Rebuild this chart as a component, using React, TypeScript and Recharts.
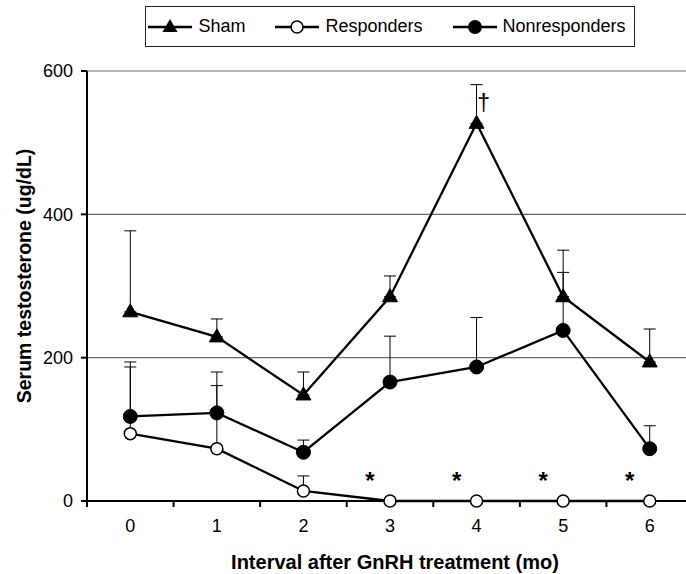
import React from 'react';
import { LineChart, Line, XAxis, YAxis, CartesianGrid, ErrorBar, LabelList, Legend } from 'recharts';

const months = [0, 1, 2, 3, 4, 5, 6];
const xTicks = [-0.5, 0, 0.5, 1, 1.5, 2, 2.5, 3, 3.5, 4, 4.5, 5, 5.5, 6, 6.5];
const yTicks = [0, 200, 400, 600];

const shamMean = [264, 229, 148, 285, 527, 285, 194];
const shamSE = [113, 25, 32, 29, 54, 65, 46];
const respMean = [94, 73, 14, 0, 0, 0, 0];
const respSE = [93, 88, 21, 0, 0, 0, 0];
const nonrespMean = [118, 123, 68, 166, 187, 238, 73];
const nonrespSE = [76, 57, 17, 64, 69, 81, 32];
const sigMarks = ['', '', '', '*', '*', '*', '*'];
const shamMarks = ['', '', '', '', '†', '', ''];

const seriesNames = ['Sham', 'Responders', 'Nonresponders'];

const data = months.map((m, i) => ({
  month: m,
  sham: shamMean[i],
  shamErr: [0, shamSE[i]],
  shamMark: shamMarks[i],
  resp: respMean[i],
  respErr: [0, respSE[i]],
  sig: sigMarks[i],
  nonresp: nonrespMean[i],
  nonrespErr: [0, nonrespSE[i]],
}));

const FONT = '"Liberation Sans", Arial, Helvetica, sans-serif';

const Triangle = ({ cx, cy }: any) => {
  if (cx == null || cy == null) return null;
  return <polygon points={`${cx},${cy - 8} ${cx - 7.5},${cy + 5} ${cx + 7.5},${cy + 5}`} fill="#000" stroke="#000" strokeWidth={1} />;
};
const OpenCircle = ({ cx, cy }: any) => {
  if (cx == null || cy == null) return null;
  return <circle cx={cx} cy={cy} r={6} fill="#fff" stroke="#000" strokeWidth={1.5} />;
};
const FilledCircle = ({ cx, cy }: any) => {
  if (cx == null || cy == null) return null;
  return <circle cx={cx} cy={cy} r={7} fill="#000" stroke="#000" strokeWidth={1} />;
};

const XTick = (props: any) => {
  const { x, y, payload } = props;
  const v = payload.value;
  if (Number.isInteger(v)) {
    return (
      <text x={x} y={y + 31} textAnchor="middle" fontSize={18} fill="#000" fontFamily={FONT}>
        {v}
      </text>
    );
  }
  return <line x1={x} x2={x} y1={y} y2={y + 6} stroke="#000" strokeWidth={2} />;
};

const StarLabel = (props: any) => {
  const { x, y, value } = props;
  if (!value) return null;
  return (
    <text x={x - 20} y={y - 12} textAnchor="middle" fontSize={24} fontWeight="bold" fill="#000" fontFamily={FONT}>
      {value}
    </text>
  );
};

const DaggerLabel = (props: any) => {
  const { x, y, value } = props;
  if (!value) return null;
  return (
    <text x={x + 7} y={y - 12} textAnchor="middle" fontSize={23} fill="#000" fontFamily={FONT}>
      {value}
    </text>
  );
};

const LegendIcon = ({ kind }: { kind: number }) => (
  <svg width={44} height={20} style={{ display: 'block' }}>
    <line x1={0} x2={44} y1={10} y2={10} stroke="#000" strokeWidth={2.3} />
    {kind === 0 && <polygon points="22,2 14.5,15 29.5,15" fill="#000" />}
    {kind === 1 && <circle cx={22} cy={10} r={6} fill="#fff" stroke="#000" strokeWidth={1.5} />}
    {kind === 2 && <circle cx={22} cy={10} r={7} fill="#000" />}
  </svg>
);

const renderLegend = () => (
  <div style={{ display: 'flex', justifyContent: 'center', width: '100%' }}>
    <div
      style={{
        display: 'flex',
        alignItems: 'center',
        border: '1px solid #222',
        height: 39,
        padding: '0 8px 0 2px',
        fontFamily: FONT,
        fontSize: 18,
        color: '#000',
        background: '#fff',
      }}
    >
      {seriesNames.map((n, i) => (
        <div key={n} style={{ display: 'flex', alignItems: 'center', marginRight: i < 2 ? 30 : 0 }}>
          <LegendIcon kind={i} />
          <span style={{ marginLeft: 6 }}>{n}</span>
        </div>
      ))}
    </div>
  </div>
);

export default function App() {
  return (
    <div style={{ position: 'fixed', top: 0, left: 0, width: 686, height: 574, overflow: 'hidden', background: '#fff' }}>
      <LineChart width={700} height={574} data={data} margin={{ top: 71, right: 7, bottom: 0, left: 0 }}>
        <CartesianGrid vertical={false} stroke="#6a6a6a" strokeWidth={1.2} />
        <XAxis
          dataKey="month"
          type="number"
          domain={[-0.5, 6.5]}
          ticks={xTicks}
          interval={0}
          tickSize={0}
          tickMargin={0}
          tickLine={false}
          tick={<XTick />}
          height={73}
          axisLine={{ stroke: '#000', strokeWidth: 2 }}
          label={{
            value: 'Interval after GnRH treatment (mo)',
            position: 'center',
            dx: 5,
            dy: 24,
            style: { fontFamily: FONT, fontSize: 20, fontWeight: 'bold', fill: '#000' },
          }}
        />
        <YAxis
          domain={[0, 600]}
          ticks={yTicks}
          width={87}
          tickSize={6}
          tickMargin={8}
          interval={0}
          axisLine={{ stroke: '#000', strokeWidth: 2 }}
          tickLine={{ stroke: '#000', strokeWidth: 2 }}
          tick={{ fontFamily: FONT, fontSize: 18, fill: '#000' }}
          label={{
            value: 'Serum testosterone (ug/dL)',
            angle: -90,
            position: 'center',
            dx: -19,
            dy: -10,
            style: { fontFamily: FONT, fontSize: 19.5, fontWeight: 'bold', fill: '#000', textAnchor: 'middle' },
          }}
        />
        <Legend verticalAlign="middle" layout="horizontal" align="center" content={renderLegend} wrapperStyle={{ top: 6, left: 87, width: 606 }} />
        <Line dataKey="sham" name="Sham" stroke="#000" strokeWidth={2.3} dot={<Triangle />} activeDot={false} isAnimationActive={false}>
          <ErrorBar dataKey="shamErr" direction="y" width={6} stroke="#000" strokeWidth={1} />
          <LabelList dataKey="shamMark" content={<DaggerLabel />} />
        </Line>
        <Line dataKey="nonresp" name="Nonresponders" stroke="#000" strokeWidth={2.3} dot={<FilledCircle />} activeDot={false} isAnimationActive={false}>
          <ErrorBar dataKey="nonrespErr" direction="y" width={6} stroke="#000" strokeWidth={1} />
        </Line>
        <Line dataKey="resp" name="Responders" stroke="#000" strokeWidth={2.3} dot={<OpenCircle />} activeDot={false} isAnimationActive={false}>
          <ErrorBar dataKey="respErr" direction="y" width={6} stroke="#000" strokeWidth={1} />
          <LabelList dataKey="sig" content={<StarLabel />} />
        </Line>
      </LineChart>
    </div>
  );
}
